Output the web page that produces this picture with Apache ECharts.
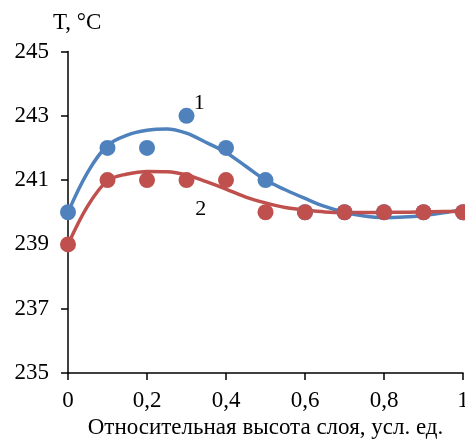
<!DOCTYPE html>
<html>
<head>
<meta charset="utf-8">
<title></title>
<script src="https://cdn.jsdelivr.net/npm/echarts@6/dist/echarts.min.js"></script>
<style>
	html, body { margin:0; padding:0; background:#fff; }
	#main { width:465px; height:439px; }
</style>
</head>
<body>
<div id="main"></div>
<script type="text/javascript">
	// измеренные точки
	var xPts = [0, 0.1, 0.2, 0.3, 0.4, 0.5, 0.6, 0.7, 0.8, 0.9, 1];
	var t1 = [240, 242, 242, 243, 242, 241, 240, 240, 240, 240, 240];
	var t2 = [239, 241, 241, 241, 241, 240, 240, 240, 240, 240, 240];
	// линии тренда
	var xFit = [0, 0.05, 0.1, 0.15, 0.2, 0.25, 0.3, 0.35, 0.4, 0.45, 0.5, 0.55, 0.6, 0.65, 0.7, 0.75, 0.8, 0.85, 0.9, 0.95, 1];
	var fit1 = [240.0, 241.25, 242.08, 242.40, 242.55, 242.59, 242.46, 242.17, 241.86, 241.43, 241.0, 240.7, 240.43, 240.18, 240.0, 239.88, 239.83, 239.85, 239.9, 239.98, 240.09];
	var fit2 = [239.0, 240.2, 240.98, 241.19, 241.27, 241.26, 241.16, 240.95, 240.72, 240.47, 240.29, 240.15, 240.07, 240.01, 239.99, 239.99, 240.0, 240.0, 240.01, 240.02, 240.02];
	var seriesNames = ['1', '2'];

	function pairs(xs, ys){
		var res = [];
		for (var i = 0; i < xs.length; i++){
			res.push([xs[i], ys[i]]);
		}
		return res;
	}

	var blue = '#4f81bd';
	var red = '#c0504d';
	var font = 'Liberation Serif';

	var myChart = echarts.init(document.getElementById('main'));
	var option = {
		animation: false,
		grid: { left: 68, right: 2, top: 51.5, bottom: 66, containLabel: false, outerBoundsMode: 'none' },
		xAxis: {
			type: 'value',
			min: 0, max: 1, interval: 0.2,
			name: 'Относительная высота слоя, усл. ед.',
			nameLocation: 'middle',
			nameGap: 42,
			nameTextStyle: { fontFamily: font, fontSize: 23, color: '#000' },
			axisLine: { lineStyle: { color: '#000', width: 1.5 } },
			axisTick: { show: true, length: 7, lineStyle: { color: '#000', width: 1.5 } },
			axisLabel: {
				fontFamily: font, fontSize: 23, color: '#000', margin: 16,
				formatter: function (v) { return String(+v.toFixed(1)).replace('.', ','); }
			},
			splitLine: { show: false }
		},
		yAxis: {
			type: 'value',
			min: 235, max: 245, interval: 2,
			name: 'T, °C',
			nameLocation: 'end',
			nameGap: 17,
			nameTextStyle: { fontFamily: font, fontSize: 23, color: '#000', align: 'left', padding: [0, 0, 0, -15] },
			axisLine: { show: true, lineStyle: { color: '#000', width: 1.5 } },
			axisTick: { show: true, length: 7, lineStyle: { color: '#000', width: 1.5 } },
			axisLabel: { fontFamily: font, fontSize: 23, color: '#000', margin: 19 },
			splitLine: { show: false }
		},
		series: [
			{
				name: seriesNames[0] + ' fit', type: 'line', smooth: 0.35, showSymbol: false,
				data: pairs(xFit, fit1), lineStyle: { color: blue, width: 3.5 }, z: 2
			},
			{
				name: seriesNames[1] + ' fit', type: 'line', smooth: 0.35, showSymbol: false,
				data: pairs(xFit, fit2), lineStyle: { color: red, width: 3.5 }, z: 2
			},
			{
				name: seriesNames[0], type: 'scatter', symbolSize: 16,
				data: pairs(xPts, t1), itemStyle: { color: blue, opacity: 1 }, z: 3,
				markPoint: {
					symbol: 'circle', symbolSize: 0,
					label: { show: true, formatter: seriesNames[0], fontFamily: font, fontSize: 22, color: '#000' },
					data: [{ coord: [0.332, 243.4] }]
				}
			},
			{
				name: seriesNames[1], type: 'scatter', symbolSize: 16,
				data: pairs(xPts, t2), itemStyle: { color: red, opacity: 1 }, z: 3,
				markPoint: {
					symbol: 'circle', symbolSize: 0,
					label: { show: true, formatter: seriesNames[1], fontFamily: font, fontSize: 22, color: '#000' },
					data: [{ coord: [0.336, 240.1] }]
				}
			}
		]
	};
	myChart.setOption(option);
</script>
</body>
</html>
